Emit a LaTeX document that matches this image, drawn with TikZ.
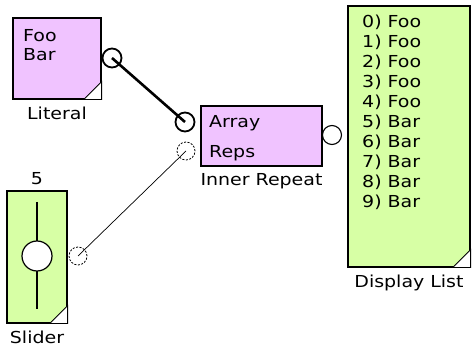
\documentclass[tikz,border=0pt]{standalone}
\usepackage{fontspec}
\setmainfont[FakeStretch=1.15]{DejaVu Sans}
\usetikzlibrary{positioning}
\definecolor{blockpink}{RGB}{240,195,255}
\definecolor{blockgreen}{RGB}{215,255,165}

\begin{document}
\begin{tikzpicture}[x=1pt, y=-1pt, font=\fontsize{16.5}{19.8}\selectfont,
    block/.style={draw, line width=1.2pt, inner sep=0pt},
    port/.style={circle, draw, minimum size=19pt, inner sep=0pt},
    dashport/.style={port, minimum size=18pt, line width=0.8pt, dash pattern=on 2pt off 1.5pt},
    blocklabel/.style={anchor=base}]
  \useasboundingbox (0,0) rectangle (475,350);
  % blocks
  \node[block, fill=blockpink, minimum width=88pt, minimum height=81pt] (lit) at (57,58.5) {};
  \node[block, fill=blockpink, minimum width=121pt, minimum height=60pt] (rep) at (261.5,136) {};
  \node[block, fill=blockgreen, minimum width=60pt, minimum height=132pt] (sld) at (37,257) {};
  \node[block, fill=blockgreen, minimum width=122pt, minimum height=261pt] (disp) at (409,136.5) {};
  \foreach \b in {lit,sld,disp}
    \filldraw[fill=white, line width=0.8pt] (\b.south east) -- ++(-18,0) -- ++(18,-18) -- cycle;
  % texts inside
  \node[anchor=base west, inner sep=0pt] (foo) at (23,42) {Foo};
  \node[anchor=base west, inner sep=0pt] (bar) at (23,61) {Bar};
  \node[anchor=base west, inner sep=0pt] (array) at (209,128) {Array};
  \node[anchor=base west, inner sep=0pt] (reps) at (209,158) {Reps};
  \foreach \i/\w in {0/Foo,1/Foo,2/Foo,3/Foo,4/Foo,5/Bar,6/Bar,7/Bar,8/Bar,9/Bar}
    \node[anchor=base west, inner sep=0pt] (item\i) at (362,{28+19.9*\i}) {\i) \w};
  % slider
  \draw[line width=1.2pt] (37,202) -- (37,309);
  \node[circle, draw, fill=white, line width=1.2pt, minimum size=30pt, inner sep=0pt] (knob) at (37,256) {};
  \node[blocklabel, inner sep=0pt] (sldval) at (37,185) {5};
  % labels
  \node[blocklabel, inner sep=0pt] (litlabel) at (57,119.5) {Literal};
  \node[blocklabel, inner sep=0pt] (replabel) at (261.5,186) {Inner Repeat};
  \node[blocklabel, inner sep=0pt] (sldlabel) at (37,344) {Slider};
  \node[blocklabel, inner sep=0pt] (displabel) at (409,288) {Display List};
  % ports
  \node[port, line width=1.8pt] (litout) at (112,58) {};
  \node[port, line width=1.8pt] (repin) at (185,122) {};
  \node[dashport] (repsin) at (186,151) {};
  \node[port, line width=1.1pt] (repout) at (332,135) {};
  \node[dashport] (sldout) at (78,256) {};
  % wires
  \draw[line width=2.6pt] (litout.center) -- (repin.center);
  \draw[line width=0.7pt] (sldout.center) -- (repsin.center);
\end{tikzpicture}
\end{document}
